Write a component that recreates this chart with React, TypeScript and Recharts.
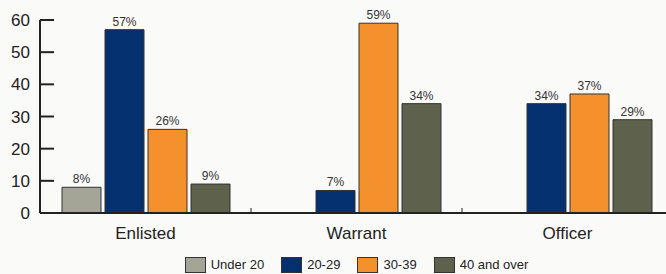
import { Bar, BarChart, LabelList, XAxis, YAxis } from "recharts";

const CATEGORIES = ["Enlisted", "Warrant", "Officer"];
const UNDER_20 = [8, null, null];
const AGE_20_29 = [57, 7, 34];
const AGE_30_39 = [26, 59, 37];
const AGE_40_PLUS = [9, 34, 29];
const Y_TICKS = [0, 10, 20, 30, 40, 50, 60];

const SERIES = [
  { key: "under20", name: "Under 20", values: UNDER_20, color: "#a4a597" },
  { key: "age20", name: "20-29", values: AGE_20_29, color: "#05306f" },
  { key: "age30", name: "30-39", values: AGE_30_39, color: "#f4912c" },
  { key: "age40", name: "40 and over", values: AGE_40_PLUS, color: "#5e614b" },
];

const chartData = CATEGORIES.map((category, i) => {
  const row: Record<string, string | number | null> = { category };
  SERIES.forEach((s) => {
    row[s.key] = s.values[i];
  });
  return row;
});

const WIDTH = 680;
const HEIGHT = 274;
const MARGIN = { top: 20, right: 7, bottom: 31, left: 0 };
const Y_AXIS_WIDTH = 40;
const BAND = (WIDTH - MARGIN.left - MARGIN.right - Y_AXIS_WIDTH) / CATEGORIES.length;

const INK = "#222";
const FONT = "'Liberation Sans', Arial, sans-serif";

function YTick({ x, y, payload }: any) {
  return (
    <g>
      <line x1={x + 10} x2={x + 24} y1={y} y2={y} stroke={INK} strokeWidth={2} />
      <text x={x} y={y} dy={6} textAnchor="end" fontSize={17} fill={INK} fontFamily={FONT}>
        {payload.value}
      </text>
    </g>
  );
}

function XTick({ x, y, payload, index }: any) {
  return (
    <g>
      {index > 0 ? (
        <line x1={x - BAND / 2} x2={x - BAND / 2} y1={y - 5} y2={y} stroke={INK} strokeWidth={1} />
      ) : null}
      <text x={x} y={y} dy={26} textAnchor="middle" fontSize={17} fill={INK} fontFamily={FONT}>
        {payload.value}
      </text>
    </g>
  );
}

export default function App() {
  return (
    <div
      style={{
        position: "fixed",
        top: 0,
        left: 0,
        width: 666,
        height: 274,
        overflow: "hidden",
        background: "#fafaf8",
      }}
    >
      <BarChart width={WIDTH} height={HEIGHT} data={chartData} margin={MARGIN} barSize={39} barGap={4}>
        <XAxis
          dataKey="category"
          axisLine={{ stroke: INK, strokeWidth: 2 }}
          tickLine={false}
          tickSize={0}
          tickMargin={0}
          height={30}
          tick={<XTick />}
          interval={0}
        />
        <YAxis
          domain={[0, 60]}
          ticks={Y_TICKS}
          width={Y_AXIS_WIDTH}
          axisLine={{ stroke: INK, strokeWidth: 2 }}
          tickLine={false}
          tickSize={0}
          tickMargin={10}
          tick={<YTick />}
          interval={0}
        />
        {SERIES.map((s) => (
          <Bar
            key={s.key}
            dataKey={s.key}
            name={s.name}
            fill={s.color}
            stroke="#333"
            strokeWidth={1}
            isAnimationActive={false}
          >
            <LabelList
              dataKey={s.key}
              position="top"
              offset={4}
              fontSize={12}
              fill="#333"
              fontFamily={FONT}
              formatter={(v: any) => (v == null ? "" : `${v}%`)}
            />
          </Bar>
        ))}
      </BarChart>
      <div
        style={{
          position: "absolute",
          top: 257,
          left: MARGIN.left + Y_AXIS_WIDTH,
          width: BAND * CATEGORIES.length,
          display: "flex",
          justifyContent: "center",
          gap: 17,
          fontFamily: FONT,
          fontSize: 13,
          lineHeight: "16px",
          color: INK,
        }}
      >
        {SERIES.map((s) => (
          <div key={s.key} style={{ display: "flex", alignItems: "center" }}>
            <span
              style={{
                display: "inline-block",
                width: 21,
                height: 16,
                boxSizing: "border-box",
                border: "1px solid #333",
                background: s.color,
                marginRight: 5,
              }}
            />
            <span>{s.name}</span>
          </div>
        ))}
      </div>
    </div>
  );
}
